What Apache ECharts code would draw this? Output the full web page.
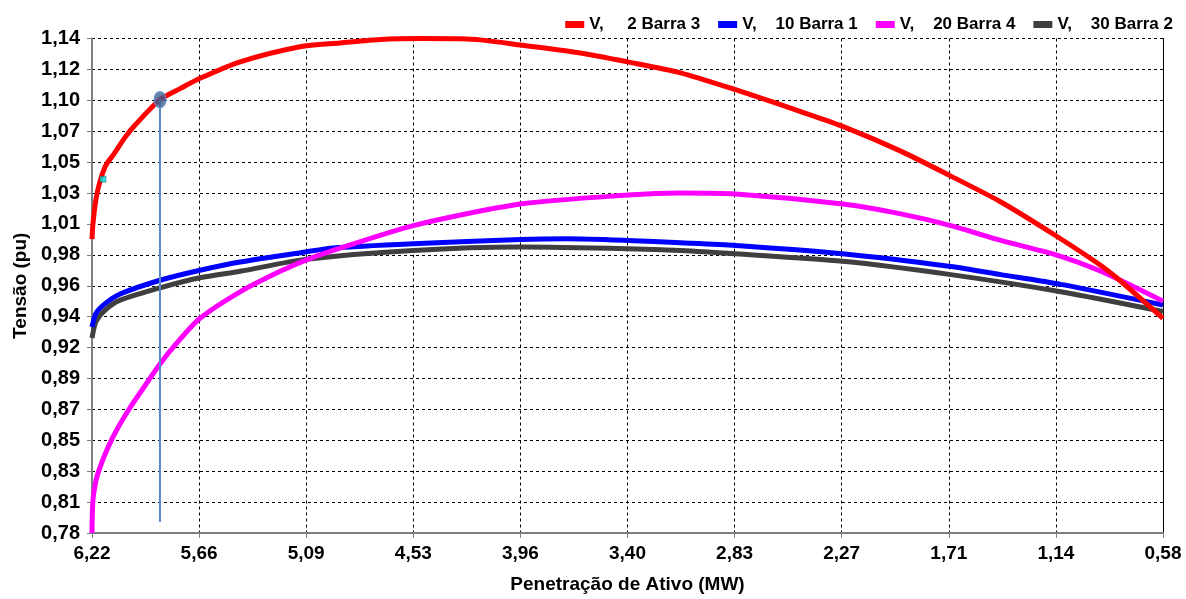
<!DOCTYPE html>
<html>
<head>
<meta charset="utf-8">
<script src="https://cdn.jsdelivr.net/npm/echarts@6/dist/echarts.min.js"></script>
<style>
  html, body { margin: 0; padding: 0; background: #fff; }
  #chart { width: 1186px; height: 599px; }
</style>
</head>
<body>
<div id="chart"></div>
<script>
// tick labels as printed on the original axes
const xTickLabels = ['6,22', '5,66', '5,09', '4,53', '3,96', '3,40', '2,83', '2,27', '1,71', '1,14', '0,58'];
const yTickLabels = ['0,78', '0,81', '0,83', '0,85', '0,87', '0,89', '0,92', '0,94', '0,96',
  '0,98', '1,01', '1,03', '1,05', '1,07', '1,10', '1,12', '1,14'];

const seriesNames = ['V,     2 Barra 3', 'V,    10 Barra 1', 'V,    20 Barra 4', 'V,    30 Barra 2'];

// V, 2 Barra 3 (red)
const barra3X = [6.22, 6.215, 6.199, 6.178, 6.146, 6.104, 6.046, 5.993, 5.862, 5.756, 5.651, 5.44,
  5.124, 4.913, 4.702, 4.49, 4.28, 4.175, 3.964, 3.648, 3.40, 3.121, 2.831, 2.594, 2.488, 2.267,
  1.961, 1.697, 1.434, 1.144, 0.907, 0.801, 0.58];
const barra3Y = [0.994, 1.005, 1.023, 1.036, 1.048, 1.056, 1.068, 1.077, 1.0955, 1.1035, 1.111, 1.123,
  1.134, 1.1367, 1.1393, 1.14, 1.1398, 1.139, 1.1353, 1.1295, 1.123, 1.115, 1.1027, 1.0919, 1.0868, 1.076,
  1.058, 1.0398, 1.021, 0.9964, 0.9747, 0.9631, 0.9363];

// V, 10 Barra 1 (blue)
const barra1X = [6.22, 6.199, 6.151, 6.072, 5.862, 5.651, 5.44, 5.097, 4.95, 4.528, 3.964, 3.716,
  3.40, 3.121, 2.831, 2.267, 1.697, 1.434, 1.118, 0.58];
const barra1Y = [0.930, 0.940, 0.947, 0.954, 0.964, 0.9713, 0.9773, 0.9846, 0.9875, 0.9906, 0.9937, 0.9942,
  0.993, 0.9913, 0.9893, 0.9833, 0.974, 0.9681, 0.961, 0.946];

// V, 20 Barra 4 (magenta)
const barra4X = [6.22, 6.215, 6.199, 6.178, 6.136, 6.088, 6.02, 5.967, 5.862, 5.783, 5.651, 5.44,
  5.229, 5.097, 4.95, 4.528, 3.964, 3.40, 3.121, 2.831, 2.267, 1.961, 1.697, 1.434, 1.144, 0.907, 0.58];
const barra4Y = [0.78, 0.8039, 0.8183, 0.8278, 0.8422, 0.8555, 0.8712, 0.882, 0.903, 0.9168, 0.9363, 0.9556,
  0.9705, 0.9785, 0.9857, 1.0038, 1.0195, 1.026, 1.0275, 1.0268, 1.0195, 1.0123, 1.0038, 0.993, 0.9825, 0.9705, 0.9488];

// V, 30 Barra 2 (dark grey)
const barra2X = [6.22, 6.199, 6.151, 6.072, 5.862, 5.651, 5.44, 5.097, 4.528, 3.964, 3.40, 3.121,
  2.831, 2.267, 1.697, 1.118, 0.58];
const barra2Y = [0.922, 0.934, 0.9423, 0.9495, 0.9585, 0.9658, 0.9705, 0.9792, 0.9857, 0.9882, 0.987, 0.9857,
  0.9833, 0.9778, 0.9681, 0.9556, 0.9412];

// highlighted point and its drop line, plus the small cyan mark
const markerPoint = [5.862, 1.0955];
const dropLineBottom = 0.788;
const cyanPoint = [6.162, 1.0376];

const xMin = 0.58, xMax = 6.22, xStep = 0.564;
const yMin = 0.78, yMax = 1.14, yStep = 0.0225;

const FONT = '"Liberation Sans", Arial, sans-serif';

function pairs(xs, ys) {
  return xs.map((x, i) => [x, ys[i]]);
}

function curve(name, color, xs, ys) {
  return {
    name: name,
    type: 'line',
    data: pairs(xs, ys),
    showSymbol: false,
    smooth: 0.25,
    lineStyle: { color: color, width: 5 },
    itemStyle: { color: color },
    xAxisIndex: 0,
    yAxisIndex: 0
  };
}

const chart = echarts.init(document.getElementById('chart'));

chart.setOption({
  animation: false,
  backgroundColor: '#fff',
  grid: { left: 92, right: 23, top: 38.5, bottom: 63 },
  legend: {
    data: seriesNames,
    right: 8,
    top: 11,
    icon: 'rect',
    itemWidth: 19,
    itemHeight: 7,
    itemGap: 18,
    textStyle: { fontFamily: FONT, fontWeight: 'bold', fontSize: 17, color: '#000' }
  },
  xAxis: {
    type: 'value',
    inverse: true,
    min: xMin,
    max: xMax,
    interval: xStep,
    name: 'Penetração de Ativo (MW)',
    nameLocation: 'middle',
    nameGap: 42,
    nameTextStyle: { fontFamily: FONT, fontWeight: 'bold', fontSize: 19, color: '#000' },
    axisLine: { show: true, lineStyle: { color: '#7f7f7f', width: 2 } },
    axisTick: { show: true, length: 5, lineStyle: { color: '#7f7f7f', width: 1 } },
    axisLabel: {
      margin: 11,
      fontFamily: FONT, fontWeight: 'bold', fontSize: 19, color: '#000',
      formatter: function (v) {
        const idx = Math.round((xMax - v) / xStep);
        return xTickLabels[idx] || '';
      }
    },
    splitLine: { show: true, lineStyle: { color: '#000', width: 1, type: [3, 3] } }
  },
  yAxis: [{
    type: 'value',
    min: yMin,
    max: yMax,
    interval: yStep,
    name: 'Tensão (pu)',
    nameLocation: 'middle',
    nameGap: 56,
    nameTextStyle: { fontFamily: FONT, fontWeight: 'bold', fontSize: 19, color: '#000' },
    axisLine: { show: true, lineStyle: { color: '#7f7f7f', width: 2 } },
    axisTick: { show: true, length: 5, lineStyle: { color: '#7f7f7f', width: 1 } },
    axisLabel: {
      margin: 12,
      fontFamily: FONT, fontWeight: 'bold', fontSize: 20, color: '#000',
      formatter: function (v) {
        const idx = Math.round((v - yMin) / yStep);
        return yTickLabels[idx] || '';
      }
    },
    splitLine: { show: true, lineStyle: { color: '#000', width: 1, type: [3, 3] } }
  }, {
    type: 'value',
    position: 'right',
    min: yMin,
    max: yMax,
    interval: yStep,
    axisLine: { show: true, lineStyle: { color: '#000', width: 1 } },
    axisTick: { show: false },
    axisLabel: { show: false },
    splitLine: { show: false }
  }],
  series: [
    curve(seriesNames[3], '#3f3f3f', barra2X, barra2Y),
    curve(seriesNames[1], '#0000ff', barra1X, barra1Y),
    curve(seriesNames[2], '#ff00ff', barra4X, barra4Y),
    curve(seriesNames[0], '#ff0000', barra3X, barra3Y),
    {
      name: 'drop',
      type: 'line',
      data: [[markerPoint[0], markerPoint[1]], [markerPoint[0], dropLineBottom]],
      showSymbol: false,
      lineStyle: { color: '#5b89c4', width: 2 },
      z: 3
    },
    {
      name: 'ponto',
      type: 'scatter',
      data: [markerPoint],
      symbol: 'circle',
      symbolSize: [12, 16],
      itemStyle: { color: '#3d5f93', borderColor: '#6f93c8', borderWidth: 1.5 },
      z: 5
    },
    {
      name: 'marca',
      type: 'scatter',
      data: [cyanPoint],
      symbol: 'rect',
      symbolSize: 6,
      itemStyle: { color: '#00e6e6', borderColor: '#1a1a1a', borderWidth: 0.5 },
      z: 5
    }
  ]
});
</script>
</body>
</html>
